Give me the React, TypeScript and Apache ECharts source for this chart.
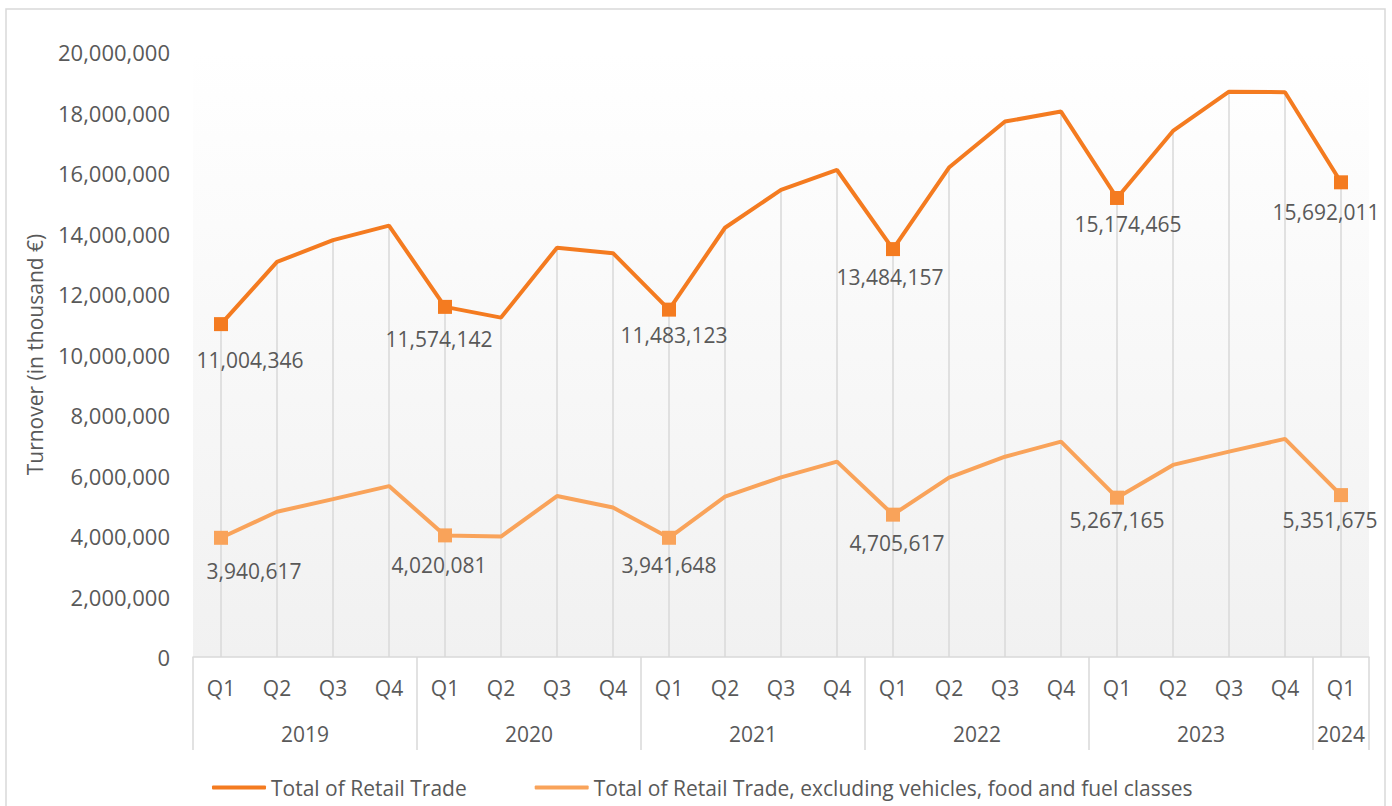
import React, { useEffect, useRef } from "react";
import * as echarts from "echarts";

const quarters = ["Q1","Q2","Q3","Q4","Q1","Q2","Q3","Q4","Q1","Q2","Q3","Q4","Q1","Q2","Q3","Q4","Q1","Q2","Q3","Q4","Q1"];
const years = ["2019","2020","2021","2022","2023","2024"];
const yearSpans = [4, 4, 4, 4, 4, 1];

const totalRetail = [
  11004346, 13060000, 13780000, 14260000,
  11574142, 11220000, 13530000, 13350000,
  11483123, 14190000, 15440000, 16100000,
  13484157, 16180000, 17700000, 18030000,
  15174465, 17390000, 18690000, 18670000,
  15692011,
];
const retailExcl = [
  3940617, 4800000, 5220000, 5650000,
  4020081, 3980000, 5320000, 4940000,
  3941648, 5300000, 5940000, 6460000,
  4705617, 5930000, 6620000, 7120000,
  5267165, 6350000, 6790000, 7210000,
  5351675,
];

const yMin = 0;
const yMax = 20000000;
const yInterval = 2000000;

const seriesNames = [
  "Total of Retail Trade",
  "Total of Retail Trade, excluding vehicles, food and fuel classes",
];

// label placement tweaks (dx, dy of label centre relative to the marker)
const totalLabelShift = [[29, 36], [-6, 32], [5, 25], [-3, 28], [11, 26], [-15, 30]];
const exclLabelShift = [[33, 33], [-6, 30], [0, 27], [4, 28], [0, 22], [-11, 25]];

const TEXT = "#595959";
const GRID = "#d9d9d9";
const C1 = "#F47B20";
const C2 = "#F9A35A";
const FONT = "Open Sans";

function fmt(v: number) {
  return Math.round(v).toLocaleString("en-US");
}

function buildData(values: number[], shifts: number[][]) {
  let k = 0;
  return values.map((v, i) => {
    if (i % 4 === 0) {
      const s = shifts[k++] || [0, 28];
      return {
        value: v,
        symbol: "rect",
        symbolSize: 14,
        label: {
          show: true,
          position: "bottom",
          distance: 0,
          offset: [s[0], s[1] - 17.5],
        },
      };
    }
    return { value: v, symbol: "none", symbolSize: 0 };
  });
}

export default function App() {
  const ref = useRef<HTMLDivElement>(null);

  useEffect(() => {
    if (!ref.current) return;
    const chart = echarts.init(ref.current, undefined, { renderer: "svg" });

    const bounds: number[] = [0];
    yearSpans.forEach((s) => bounds.push(bounds[bounds.length - 1] + s));
    const centers = yearSpans.map((s, i) => bounds[i] + s / 2);

    const labelStyle = {
      color: TEXT,
      fontSize: 21,
      fontFamily: FONT,
      formatter: (p: any) => fmt(p.value),
    };

    chart.setOption({
      animation: false,
      backgroundColor: "#ffffff",
      textStyle: { fontFamily: FONT, color: TEXT },
      graphic: [
        {
          type: "rect",
          shape: { x: 6, y: 9, width: 1379, height: 830 },
          style: { fill: "none", stroke: GRID, lineWidth: 1.5 },
          silent: true,
          z: 0,
        },
      ],
      grid: {
        left: 193,
        right: 23,
        top: 52,
        bottom: 149,
        show: true,
        borderWidth: 0,
        backgroundColor: new echarts.graphic.LinearGradient(0, 0, 0, 1, [
          { offset: 0, color: "#ffffff" },
          { offset: 1, color: "#f1f1f1" },
        ]),
      },
      legend: {
        data: seriesNames,
        left: 212,
        top: 777,
        padding: 0,
        icon: "roundRect",
        itemWidth: 54,
        itemHeight: 4,
        itemGap: 68,
        textStyle: { color: TEXT, fontSize: 21, fontFamily: FONT },
      },
      xAxis: [
        {
          type: "category",
          data: quarters,
          boundaryGap: true,
          axisLine: { show: true, lineStyle: { color: GRID, width: 1.5 } },
          axisTick: { show: false },
          axisLabel: { color: TEXT, fontSize: 21, fontFamily: FONT, margin: 20, interval: 0 },
          splitLine: { show: false },
        },
        {
          type: "value",
          min: 0,
          max: quarters.length,
          position: "bottom",
          axisLine: { show: false },
          splitLine: { show: false },
          axisTick: {
            show: true,
            customValues: bounds,
            length: 93,
            lineStyle: { color: GRID, width: 1.5 },
          },
          axisLabel: {
            customValues: centers,
            color: TEXT,
            fontSize: 21,
            fontFamily: FONT,
            margin: 66,
            formatter: (v: number) => {
              const idx = centers.indexOf(v);
              return idx >= 0 ? years[idx] : "";
            },
          },
        },
      ],
      yAxis: {
        type: "value",
        min: yMin,
        max: yMax,
        interval: yInterval,
        axisLine: { show: false },
        axisTick: { show: false },
        splitLine: { show: false },
        axisLabel: {
          color: TEXT,
          fontSize: 22,
          fontFamily: FONT,
          margin: 23,
          formatter: (v: number) => fmt(v),
        },
        name: "Turnover (in thousand €)",
        nameLocation: "middle",
        nameRotate: 90,
        nameGap: 148,
        nameTextStyle: { color: TEXT, fontSize: 21, fontFamily: FONT },
      },
      series: [
        {
          name: "drop",
          type: "bar",
          xAxisIndex: 0,
          data: totalRetail,
          barWidth: 1.5,
          itemStyle: { color: GRID },
          silent: true,
          z: 1,
        },
        {
          name: seriesNames[0],
          type: "line",
          xAxisIndex: 0,
          data: buildData(totalRetail, totalLabelShift),
          showSymbol: true,
          showAllSymbol: true,
          lineStyle: { color: C1, width: 4 },
          itemStyle: { color: C1 },
          label: labelStyle,
          z: 3,
        },
        {
          name: seriesNames[1],
          type: "line",
          xAxisIndex: 0,
          data: buildData(retailExcl, exclLabelShift),
          showSymbol: true,
          showAllSymbol: true,
          lineStyle: { color: C2, width: 4 },
          itemStyle: { color: C2 },
          label: labelStyle,
          z: 3,
        },
      ],
    });

    return () => chart.dispose();
  }, []);

  return (
    <div
      ref={ref}
      style={{ position: "absolute", left: 0, top: 0, width: 1392, height: 806 }}
    />
  );
}
